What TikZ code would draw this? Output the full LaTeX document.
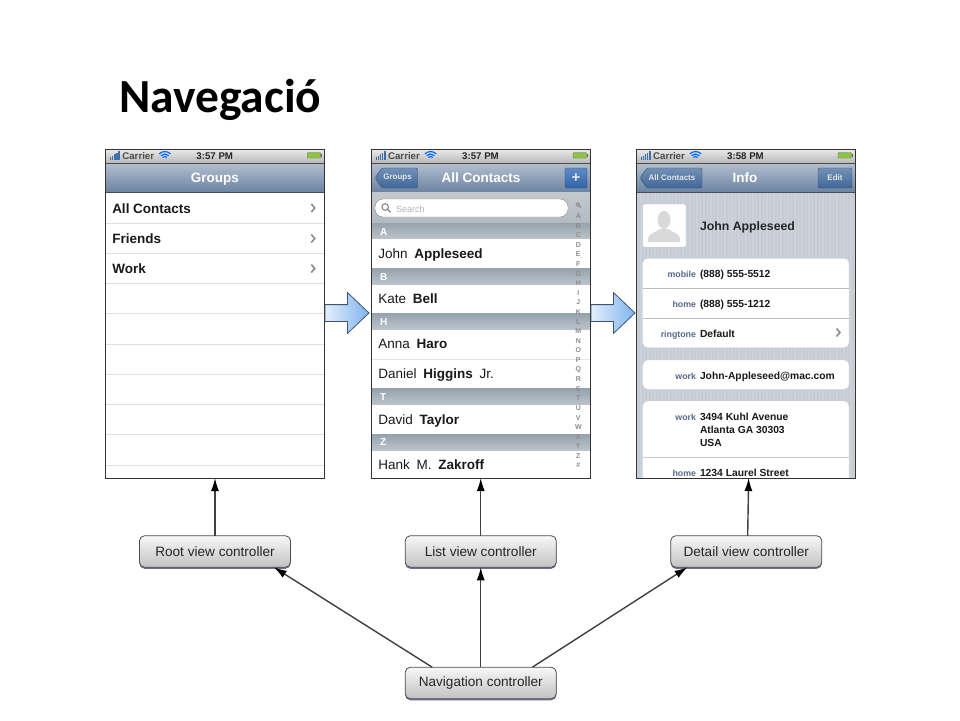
\documentclass[tikz,border=0pt]{standalone}
\usepackage{fontspec}
\setmainfont{Liberation Sans}
\newfontfamily\titlefont{Carlito}
\usetikzlibrary{arrows.meta,shapes.arrows,shadows}
\tikzset{
  every node/.style={inner sep=0pt,outer sep=0pt},
  screenframe/.style={draw=black!80,line width=1pt,minimum width=219.5pt,minimum height=329pt},
  statustext/.style={anchor=base,font=\bfseries\fontsize{9.7}{12}\selectfont,text=black!70},
  navtitle/.style={anchor=base,font=\bfseries\fontsize{13.5}{16}\selectfont,text=white},
  navlabel/.style={anchor=center,font=\bfseries\fontsize{8}{10}\selectfont,text=white!90!black},
  navbutton/.style={draw=navbtnedge,rounded corners=1.5pt,top color=navbtntop,bottom color=navbtnbot},
  rowtext/.style={anchor=base west,font=\fontsize{13.5}{16}\selectfont,text=black!90},
  sectionbar/.style={top color=sectop,bottom color=secbot},
  sectionletter/.style={anchor=base west,font=\bfseries\fontsize{10}{12}\selectfont,text=white},
  indexletter/.style={anchor=center,font=\bfseries\fontsize{7}{8}\selectfont,text=black!45},
  fieldlabel/.style={anchor=base east,font=\bfseries\fontsize{8.8}{10}\selectfont,text=labelblue},
  fieldvalue/.style={anchor=base west,font=\bfseries\fontsize{10.3}{12}\selectfont,text=black!90},
  groupbox/.style={fill=white,draw=black!15,rounded corners=5pt},
  chevron/.style={draw=black!45,line width=1.6pt},
  flowarrow/.style={single arrow,draw=arrowedge,line width=0.8pt,minimum height=44pt,inner sep=8pt,
    single arrow head extend=12pt,single arrow tip angle=87,single arrow head indent=0pt,
    left color=arrowleft,right color=arrowright},
  ctlbox/.style={draw=black!70,line width=0.8pt,rounded corners=5pt,minimum width=151pt,minimum height=31.5pt,
    top color=black!3,bottom color=black!24,font=\fontsize{13.6}{16}\selectfont,text=black!85,
    drop shadow={shadow xshift=0pt,shadow yshift=-1.5pt,fill=shadowblue,opacity=1}},
  ctlarrow/.style={draw=black!75,line width=1.4pt,-{Latex[length=13pt,width=8pt,black]}}
}
\definecolor{navtop}{HTML}{B3BFCF}
\definecolor{navbot}{HTML}{6C83A1}
\definecolor{navbtntop}{HTML}{7391B6}
\definecolor{navbtnbot}{HTML}{406698}
\definecolor{navbtnedge}{HTML}{34506F}
\definecolor{plustop}{HTML}{5F8CC6}
\definecolor{plusbot}{HTML}{2F63A8}
\definecolor{sectop}{HTML}{95A2AD}
\definecolor{secbot}{HTML}{BCC3CA}
\definecolor{searchtop}{HTML}{C3C9CF}
\definecolor{searchbot}{HTML}{B2B9C1}
\definecolor{labelblue}{HTML}{56688A}
\definecolor{arrowedge}{HTML}{3C5573}
\definecolor{arrowleft}{HTML}{E3EEFB}
\definecolor{arrowright}{HTML}{7FB3EE}
\definecolor{shadowblue}{HTML}{6C6C9C}
\definecolor{stripebase}{HTML}{C5CCD4}
\definecolor{pinstripe}{HTML}{CBD2D9}
\definecolor{signalblue}{HTML}{3F6FA8}
\definecolor{batterygreen}{HTML}{8CC63F}
% status bar and navigation bar of one screen
\newcommand{\phonebars}[1]{
\fill[top color=black!8,bottom color=black!28] (0,149) rectangle (219.5,163);
\fill[top color=navtop,bottom color=navbot] (0,163) rectangle (219.5,192);
\draw[black!70] (0,163) -- (219.5,163);
\draw[black!70] (0,192) -- (219.5,192);
\foreach \b in {1,...,5}
  \fill[signalblue] ({2.5+\b*2.1},159.5) rectangle ({4+\b*2.1},{159-\b*1.6});
\node[statustext] (carrier) at (33,159) {Carrier};
\foreach \r in {3,5.5,8}
  \draw[blue!60!cyan,line width=1.2pt] ({59.5-\r*0.7},{159.5-\r*0.7}) arc[start angle=135,end angle=45,radius=\r pt];
\node[statustext,text=black!85] (clock) at (109.5,159) {#1};
\draw[black!60,fill=batterygreen,rounded corners=0.8pt] (202,152.5) rectangle (215.5,158);
\fill[black!60] (215.5,154) rectangle (216.5,156.5);
}
\begin{document}
\begin{tikzpicture}[x=1pt,y=-1pt]
\useasboundingbox (0,0) rectangle (960,720);
\node[anchor=base west,font=\titlefont\bfseries\fontsize{47.5}{52}\selectfont,text=black] (title) at (119,112) {Navegació};
% first screen
\begin{scope}[xshift=105.25pt,name prefix=rootview-]
\fill[white] (0,149) rectangle (219.5,478);
\phonebars{3:57 PM}
\node[navtitle] (heading) at (109.5,182) {Groups};
\foreach \t/\l/\n in {213/All Contacts/1,243.5/Friends/2,273.5/Work/3}{
  \node[rowtext,font=\bfseries\fontsize{13.5}{16}\selectfont] (row\n) at (7,\t) {\l};
  \draw[chevron] (206,\t-9) -- (209.5,\t-5) -- (206,\t-1);
}
\foreach \y in {222.7,253,283.5,313.5,344,374,404,434,465}
  \draw[black!12] (0,\y) -- (219.5,\y);
\node[screenframe] (frame) at (109.75,313.5) {};
\end{scope}
% second screen
\begin{scope}[xshift=371pt,name prefix=listview-]
\fill[white] (0,149) rectangle (219.5,478);
\phonebars{3:57 PM}
\node[navtitle] (heading) at (110,182) {All Contacts};
\draw[navbutton] (4,178) -- (11,168) -- (46.5,168) -- (46.5,188) -- (11,188) -- cycle;
\node[navlabel] (back) at (26.5,178) {Groups};
\draw[navbutton,top color=plustop,bottom color=plusbot] (194,168) rectangle (216,188);
\node[navlabel,font=\bfseries\fontsize{15}{16}\selectfont] (plus) at (205,178) {+};
\fill[top color=searchtop,bottom color=searchbot] (0,192.5) rectangle (219.5,223);
\draw[black!45,fill=white,rounded corners=8pt] (4,199) rectangle (197,217);
\draw[black!50,line width=1pt] (14.2,207) circle (3.3pt);
\draw[black!50,line width=1.2pt] (16.6,209.4) -- (19.5,212.3);
\node[anchor=base west,font=\fontsize{9}{10}\selectfont,text=black!30] (searchhint) at (25,212) {Search};
\foreach \a/\b/\l/\s in {223/238.5/A/235,268/284/B/280,313/329/H/325,388.5/404.5/T/400,434/450/Z/445.5}{
  \fill[sectionbar] (0,\a) rectangle (219.5,\b);
  \node[sectionletter] (sec\l) at (9,\s) {\l};
}
\draw[black!10] (0,359) -- (219.5,359);
\node[rowtext] (contact1) at (7.3,258.3) {John\hspace{3pt} \textbf{Appleseed}};
\node[rowtext] (contact2) at (7.3,303.3) {Kate\hspace{3pt} \textbf{Bell}};
\node[rowtext] (contact3) at (7.3,348.3) {Anna\hspace{3pt} \textbf{Haro}};
\node[rowtext] (contact4) at (7.3,378.3) {Daniel\hspace{3pt} \textbf{Higgins}\hspace{3pt} Jr.};
\node[rowtext] (contact5) at (7.3,424) {David\hspace{3pt} \textbf{Taylor}};
\node[rowtext] (contact6) at (7.3,469) {Hank\hspace{3pt} M.\hspace{3pt} \textbf{Zakroff}};
\draw[black!45,line width=1pt] (206.8,204.5) circle (1.8pt);
\draw[black!45,line width=1pt] (208.2,206) -- (210,208);
\foreach \l [count=\n from 0] in {A,B,C,D,E,F,G,H,I,J,K,L,M,N,O,P,Q,R,S,T,U,V,W,X,Y,Z,\#}
  \node[indexletter] (index\n) at (207.3,{216+\n*9.6}) {\l};
\node[screenframe] (frame) at (109.75,313.5) {};
\end{scope}
% third screen
\begin{scope}[xshift=636pt,name prefix=detailview-]
\fill[stripebase] (0,192) rectangle (219.5,478);
\foreach \x in {1.5,5,...,219}
  \draw[pinstripe,line width=1.2pt] (\x,192) -- (\x,478);
\phonebars{3:58 PM}
\node[navtitle] (heading) at (109,182) {Info};
\draw[navbutton] (4,178) -- (11,168) -- (66,168) -- (66,188) -- (11,188) -- cycle;
\node[navlabel] (back) at (36,178) {All Contacts};
\draw[navbutton] (182,168) rectangle (216,188);
\node[navlabel] (edit) at (199,178) {Edit};
\draw[draw=black!25,fill=white,rounded corners=1.5pt] (6.7,204) rectangle (50,247.3);
\fill[black!15] (28,220) ellipse (6.5pt and 9pt);
\fill[black!15] (12,242) -- (12,238) .. controls (14,233) and (20,232) .. (24,229) -- (32,229) .. controls (36,232) and (42,233) .. (44,238) -- (44,242) -- cycle;
\node[anchor=base west,font=\bfseries\fontsize{12.3}{14}\selectfont,text=black!85] (name) at (64,230) {John Appleseed};
\draw[groupbox] (6.7,258.3) rectangle (213,347.7);
\draw[black!25] (6.7,288.3) -- (213,288.3);
\draw[black!25] (6.7,318.3) -- (213,318.3);
\draw[groupbox] (6.7,360) rectangle (213,389.3);
\draw[groupbox] (6.7,478) -- (6.7,401) -- (213,401) -- (213,478);
\draw[black!20] (6.7,456.7) -- (213,456.7);
\foreach \y/\l/\v/\n in {277.3/mobile/(888) 555-5512/1,307.3/home/(888) 555-1212/2,337.3/ringtone/Default/3,379/work/John-Appleseed@mac.com/4,420/work/3494 Kuhl Avenue/5,476/home/1234 Laurel Street/6}{
  \node[fieldlabel] (label\n) at (60,\y) {\l};
  \node[fieldvalue] (value\n) at (64,\y) {\v};
}
\node[fieldvalue] (value7) at (64,433.3) {Atlanta GA 30303};
\node[fieldvalue] (value8) at (64,446.7) {USA};
\draw[chevron] (200.5,328.5) -- (204,332.5) -- (200.5,336.5);
\node[screenframe] (frame) at (109.75,313.5) {};
\end{scope}
\node[flowarrow,anchor=tail] (push1) at (325,313) {};
\node[flowarrow,anchor=tail] (push2) at (591,313) {};
% controllers
\node[ctlbox] (rootctl) at (215,551.5) {Root view controller};
\node[ctlbox] (listctl) at (480.75,551.5) {List view controller};
\node[ctlbox] (detailctl) at (746.3,551.5) {Detail view controller};
\node[ctlbox] (navctl) at (480.75,683) {Navigation controller};
\path[ctlarrow] (rootctl.north) -- (rootview-frame.south);
\path[ctlarrow] (listctl.north) -- (listview-frame.south);
\path[ctlarrow] (detailctl.85) -- (detailview-frame.-89.3);
\path[ctlarrow] (navctl.162.4) -- (rootctl.345);
\path[ctlarrow] (navctl.north) -- (listctl.south);
\path[ctlarrow] (navctl.17.2) -- (detailctl.195);
\end{tikzpicture}
\end{document}
